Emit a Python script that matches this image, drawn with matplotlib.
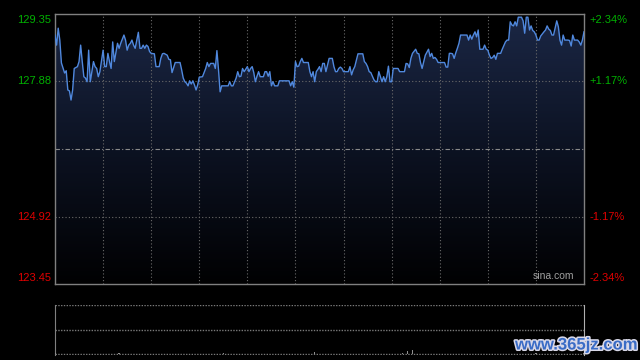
import numpy as np
import matplotlib
matplotlib.use("Agg")
import matplotlib.pyplot as plt
import matplotlib.transforms as mtransforms
from matplotlib.colors import LinearSegmentedColormap
import matplotlib.patheffects as pe

plt.rcParams['font.family'] = ['Liberation Sans', 'DejaVu Sans']

# ---------------- data ----------------
prev_close = 126.40
y_min, y_max = 123.45, 129.35
total_minutes = 330
grid_minutes = [30, 60, 90, 120, 150, 180, 210, 240, 270, 300]

left_values = [129.35, 127.88, 124.92, 123.45]
left_labels = ["129.35", "127.88", "124.92", "123.45"]
right_labels = ["+2.34%", "+1.17%", "-1.17%", "-2.34%"]
label_colors = ["#00b000", "#00b000", "#e00000", "#e00000"]

minutes = [
    0, 1, 2, 3, 4, 6, 7, 8, 9, 10,
    11, 12, 14, 15, 16, 17, 18, 19, 20, 21,
    22, 23, 24, 25, 26, 27, 28, 30, 31, 32,
    33, 34, 35, 36, 37, 39, 40, 41, 43, 44,
    45, 46, 47, 48, 49, 50, 52, 53, 54, 55,
    56, 57, 58, 59, 60, 62, 63, 65, 66, 67,
    68, 70, 71, 72, 73, 75, 76, 78, 79, 80,
    81, 82, 83, 84, 85, 86, 87, 88, 89, 90,
    92, 94, 95, 96, 97, 99, 100, 101, 102, 103,
    104, 106, 108, 109, 110, 111, 113, 114, 115, 116,
    117, 118, 120, 121, 122, 123, 124, 125, 126, 127,
    128, 130, 131, 132, 133, 134, 135, 136, 137, 139,
    140, 142, 145, 146, 147, 148, 149, 150, 151, 152,
    153, 154, 155, 157, 158, 159, 160, 161, 162, 163,
    164, 165, 166, 167, 168, 169, 170, 171, 173, 174,
    175, 176, 177, 178, 179, 180, 181, 183, 184, 185,
    186, 187, 189, 190, 192, 193, 194, 195, 196, 197,
    198, 199, 200, 201, 202, 203, 204, 205, 206, 207,
    208, 209, 210, 211, 212, 214, 215, 217, 218, 219,
    220, 221, 222, 223, 225, 226, 227, 228, 229, 230,
    231, 233, 234, 235, 236, 237, 238, 239, 240, 243,
    244, 245, 246, 247, 248, 249, 250, 251, 252, 253,
    255, 257, 258, 259, 260, 261, 262, 263, 264, 265,
    267, 268, 269, 270, 271, 272, 273, 274, 275, 276,
    278, 279, 281, 282, 283, 284, 285, 286, 287, 288,
    289, 291, 292, 293, 294, 295, 296, 297, 298, 299,
    300, 301, 302, 303, 305, 306, 307, 308, 309, 310,
    311, 313, 314, 315, 316, 317, 318, 320, 321, 322,
    323, 324, 326, 327, 328, 329, 330,
]

prices = [
    128.89, 128.67, 129.04, 128.78, 128.28, 128.06, 128.11, 127.69, 127.67, 127.47,
    127.69, 128.16, 128.20, 128.31, 128.67, 128.31, 127.98, 127.95, 127.87, 128.56,
    127.87, 128.09, 128.31, 128.20, 128.16, 127.98, 128.09, 128.56, 128.20, 128.20,
    128.49, 128.31, 128.16, 128.74, 128.31, 128.71, 128.60, 128.71, 128.89, 128.78,
    128.56, 128.67, 128.71, 128.78, 128.67, 128.60, 128.95, 128.60, 128.60, 128.67,
    128.60, 128.67, 128.64, 128.53, 128.49, 128.48, 128.20, 128.20, 128.38, 128.48,
    128.49, 128.45, 128.36, 128.35, 128.07, 128.29, 128.29, 128.29, 128.13, 127.95,
    127.87, 127.84, 127.78, 127.89, 127.82, 127.89, 127.80, 127.69, 127.80, 127.97,
    127.98, 128.16, 128.29, 128.20, 128.27, 128.27, 128.16, 128.55, 128.13, 127.65,
    127.78, 127.78, 127.78, 127.87, 127.78, 127.78, 127.95, 128.09, 127.98, 127.99,
    128.16, 128.09, 128.20, 128.09, 128.16, 128.20, 128.07, 127.87, 127.99, 128.09,
    127.98, 127.98, 128.09, 128.09, 127.99, 128.09, 127.78, 127.87, 127.78, 127.78,
    127.89, 127.89, 127.89, 127.89, 127.78, 127.87, 127.75, 128.31, 128.20, 128.21,
    128.31, 128.38, 128.29, 128.29, 128.29, 128.09, 127.98, 128.09, 127.87, 128.09,
    128.14, 128.20, 128.09, 128.27, 128.27, 128.09, 128.24, 128.38, 128.38, 128.20,
    128.09, 128.09, 128.16, 128.19, 128.16, 128.09, 128.09, 128.09, 128.20, 128.02,
    128.13, 128.20, 128.48, 128.48, 128.48, 128.31, 128.27, 128.20, 128.09, 128.07,
    127.99, 127.91, 127.87, 127.87, 128.09, 127.98, 127.87, 127.98, 127.87, 127.98,
    128.21, 127.87, 127.87, 128.16, 128.16, 128.16, 128.09, 128.09, 128.09, 128.27,
    128.26, 128.18, 128.38, 128.49, 128.58, 128.49, 128.48, 128.29, 128.16, 128.31,
    128.45, 128.58, 128.42, 128.49, 128.38, 128.40, 128.36, 128.29, 128.29, 128.29,
    128.19, 128.19, 128.49, 128.49, 128.48, 128.38, 128.50, 128.60, 128.71, 128.89,
    128.89, 128.89, 128.78, 128.89, 128.80, 128.89, 128.96, 128.85, 129.00, 128.58,
    128.58, 128.67, 128.58, 128.56, 128.45, 128.38, 128.40, 128.45, 128.36, 128.49,
    128.49, 128.58, 128.74, 128.78, 128.78, 129.18, 129.11, 129.09, 129.18, 129.09,
    129.28, 129.28, 129.20, 128.93, 129.28, 129.28, 129.00, 129.09, 128.99, 128.96,
    128.89, 128.78, 128.78, 128.87, 128.96, 129.00, 129.09, 129.02, 128.99, 128.89,
    128.89, 129.20, 129.07, 128.78, 128.67, 128.89, 128.78, 128.78, 128.77, 128.65,
    128.89, 128.78, 128.78, 128.74, 128.67, 128.78, 128.96,
]

vol_minutes = [0, 40, 105, 162, 217, 220, 223, 300, 330]
vol_values = [3, 2, 2, 4, 3, 6, 8, 2, 3]
vol_max = 100

# ---------------- figure ----------------
W, H = 640, 360
fig = plt.figure(figsize=(6.4, 3.6), dpi=100, facecolor="black")

ax = fig.add_axes([55 / W, 76 / H, 529 / W, 270 / H])
ax.set_facecolor("black")
ax.set_xlim(0, total_minutes)
ax.set_ylim(y_min, y_max)
ax.set_xticks([])
ax.set_yticks([])

# gradient fill under curve
poly = ax.fill_between(minutes, prices, y_min, color="none", lw=0)
grad = np.linspace(1, 0, 256).reshape(-1, 1)
cmap = LinearSegmentedColormap.from_list("g", ["#010102", "#0c1222", "#1b2745"])
im = ax.imshow(grad, extent=[0, total_minutes, y_min, y_max], aspect="auto",
               cmap=cmap, vmin=0, vmax=1, zorder=1, interpolation="bilinear")
im.set_clip_path(poly.get_paths()[0], transform=ax.transData)

grid_col = "#6a6a6a"
for m in grid_minutes:
    ax.axvline(m, color=grid_col, lw=0.8, ls=(0, (1, 2)), zorder=2)
for v in (left_values[1], left_values[2]):
    ax.axhline(v, color=grid_col, lw=0.8, ls=(0, (1, 2)), zorder=2)
ax.axhline(prev_close, color="#8a8a8a", lw=0.8, ls=(0, (4, 2, 1, 2)), zorder=2)

ax.plot(minutes, prices, color="#5088dd", lw=1.0, zorder=3)

for s in ax.spines.values():
    s.set_color("#808080")
    s.set_linewidth(1.0)

trans_l = mtransforms.blended_transform_factory(ax.transAxes, ax.transData)
vas = ["top", "center", "center", "bottom"]
for v, lab, rlab, c, va in zip(left_values, left_labels, right_labels, label_colors, vas):
    off = -0.02 if va == "top" else (0.02 if va == "bottom" else 0)
    ax.text(-0.008, v + off, lab, color=c, fontsize=8, ha="right", va=va,
            transform=trans_l)
    ax.text(1.011, v + off, rlab, color=c, fontsize=8, ha="left", va=va,
            transform=trans_l)

ax.text(0.982, 0.012, "sina.com", color="#a0a0a0", fontsize=7.5, ha="right",
        va="bottom", transform=ax.transAxes, zorder=4)

# ---------------- volume panel ----------------
ax2 = fig.add_axes([55 / W, 5 / H, 529 / W, 50 / H])
ax2.set_facecolor("black")
ax2.set_xlim(0, total_minutes)
ax2.set_ylim(-2, vol_max)
ax2.set_xticks([])
ax2.set_yticks([])
for k in ("top", "bottom"):
    ax2.spines[k].set_visible(False)
ax2.spines["left"].set_color("#808080")
ax2.spines["right"].set_color("#b0b0b0")
for frac in (0.99, 0.5, 0.0):
    ax2.axhline(vol_max * frac, color="#7a7a7a", lw=1.0, ls=(0, (1, 1)), zorder=2)
ax2.bar(vol_minutes, vol_values, width=0.8, color="#909090", zorder=3)

# watermark
fig.text(576 / W, 1 - 345 / H, "www.365jz.com", color="#3a6cc6", fontsize=12,
         fontweight="bold", family=["Liberation Sans", "DejaVu Sans"],
         ha="center", va="center",
         path_effects=[pe.withStroke(linewidth=2.2, foreground="#d8d8e8")])

fig.savefig("out.png", dpi=100, facecolor="black")
